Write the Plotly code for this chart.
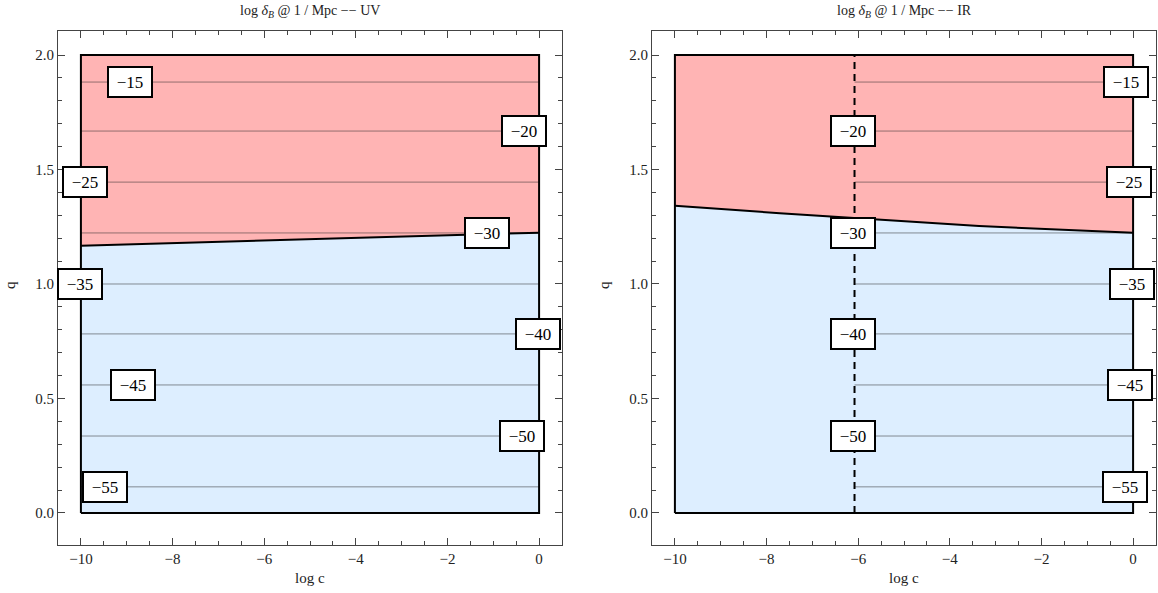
import plotly.graph_objects as go

# ---------------- data ----------------
levels = [-15, -20, -25, -30, -35, -40, -45, -50, -55]
level_q = [1.882, 1.668, 1.445, 1.223, 1.0, 0.782, 0.559, 0.336, 0.114]

# region boundary (log c, q)
uv_bound_c = [-10.0, 0.0]
uv_bound_q = [1.167, 1.224]
ir_bound_c = [-10.0, -7.71, -3.36, 0.0]
ir_bound_q = [1.342, 1.309, 1.253, 1.224]

ir_dash_c = -6.08          # vertical dashed line in IR panel
c_min, c_max = -10.0, 0.0
q_min, q_max = 0.0, 2.0

# label positions along log c
uv_label_c = [-8.93, -0.33, -9.91, -1.13, -10.02, -0.03, -8.87, -0.37, -9.48]
ir_label_c = [-0.15, -6.12, -0.09, -6.12, -0.02, -6.12, -0.07, -6.12, -0.17]

titles = ["log <i>δ</i><sub><i>B</i></sub> @ 1 / Mpc −− UV",
          "log <i>δ</i><sub><i>B</i></sub> @ 1 / Mpc −− IR"]

# ---------------- style ----------------
W, H = 1158, 593
RED = "#FFB4B4"
BLUE = "#DDEEFF"
SERIF = "Liberation Serif, Times New Roman, serif"
FRAME = "#444444"


def px(x):
    return x / W


def py(y):
    return (H - y) / H


fig = go.Figure()


def add_panel(xa, ya, bc, bq, line_start):
    fig.add_trace(go.Scatter(
        x=[c_min] + bc + [c_max, c_min], y=[q_min] + bq + [q_min, q_min],
        fill="toself", fillcolor=BLUE, mode="none", hoverinfo="skip",
        xaxis=xa, yaxis=ya, showlegend=False))
    fig.add_trace(go.Scatter(
        x=[c_min] + bc + [c_max, c_min], y=[q_max] + bq + [q_max, q_max],
        fill="toself", fillcolor=RED, mode="none", hoverinfo="skip",
        xaxis=xa, yaxis=ya, showlegend=False))
    xs, ys = [], []
    for q in level_q:
        xs += [line_start, c_max, None]
        ys += [q, q, None]
    fig.add_trace(go.Scatter(x=xs, y=ys, mode="lines",
                             line=dict(color="rgba(40,40,40,0.5)", width=1),
                             xaxis=xa, yaxis=ya, showlegend=False, hoverinfo="skip"))
    fig.add_trace(go.Scatter(x=bc, y=bq, mode="lines",
                             line=dict(color="black", width=2),
                             xaxis=xa, yaxis=ya, showlegend=False, hoverinfo="skip"))
    fig.add_trace(go.Scatter(x=[c_min, c_max, c_max, c_min, c_min],
                             y=[q_min, q_min, q_max, q_max, q_min], mode="lines",
                             line=dict(color="black", width=2),
                             xaxis=xa, yaxis=ya, showlegend=False, hoverinfo="skip"))


def add_labels(xa, ya, label_c):
    for lev, q, c in zip(levels, level_q, label_c):
        fig.add_annotation(x=c, y=q, xref=xa, yref=ya, text="−%d" % abs(lev),
                           showarrow=False, font=dict(family=SERIF, size=17, color="black"),
                           width=36, height=22, align="center", valign="middle",
                           bgcolor="white", bordercolor="black", borderwidth=2, borderpad=3)


add_panel("x", "y", uv_bound_c, uv_bound_q, c_min)
add_panel("x2", "y2", ir_bound_c, ir_bound_q, ir_dash_c)
fig.add_trace(go.Scatter(x=[ir_dash_c, ir_dash_c], y=[q_min, q_max], mode="lines",
                         line=dict(color="black", width=2, dash="7px,5px"),
                         xaxis="x2", yaxis="y2", showlegend=False, hoverinfo="skip"))
add_labels("x", "y", uv_label_c)
add_labels("x2", "y2", ir_label_c)

y_dom = [py(545), py(31)]
dom1 = [px(58), px(562)]
dom2 = [px(652), px(1156)]

x_minor = [v / 2 for v in range(-19, 0) if v % 4 != 0]
y_minor = [v / 10 for v in range(1, 20) if v % 5 != 0]


def xaxis(dom, anchor):
    return dict(domain=dom, anchor=anchor, range=[-10.5, 0.5],
                tickmode="array", tickvals=[-10, -8, -6, -4, -2, 0],
                ticks="inside", ticklen=7, tickcolor=FRAME, tickwidth=1,
                minor=dict(tickvals=x_minor, ticks="inside", ticklen=4, tickcolor=FRAME),
                showline=True, linecolor=FRAME, linewidth=1, mirror="allticks",
                showgrid=False, zeroline=False,
                tickfont=dict(family=SERIF, size=15, color="#222"))


def yaxis(dom, anchor):
    return dict(domain=dom, anchor=anchor, range=[-0.14, 2.105],
                tickmode="array", tickvals=[0, 0.5, 1, 1.5, 2],
                ticktext=["0.0", "0.5", "1.0", "1.5", "2.0"],
                ticks="inside", ticklen=7, tickcolor=FRAME, tickwidth=1,
                minor=dict(tickvals=y_minor, ticks="inside", ticklen=4, tickcolor=FRAME),
                showline=True, linecolor=FRAME, linewidth=1, mirror="allticks",
                showgrid=False, zeroline=False,
                tickfont=dict(family=SERIF, size=15, color="#222"))


fig.update_layout(
    width=W, height=H, margin=dict(l=0, r=0, t=0, b=0),
    paper_bgcolor="white", plot_bgcolor="white",
    xaxis=xaxis(dom1, "y"), yaxis=yaxis(y_dom, "x"),
    xaxis2=xaxis(dom2, "y2"), yaxis2=yaxis(y_dom, "x2"),
)

for i, dom in enumerate([dom1, dom2]):
    cx = (dom[0] + dom[1]) / 2
    fig.add_annotation(x=cx, y=py(12), xref="paper", yref="paper", text=titles[i],
                       showarrow=False, font=dict(family=SERIF, size=14, color="#222"),
                       xanchor="center", yanchor="middle")
    fig.add_annotation(x=cx, y=py(578), xref="paper", yref="paper", text="log c",
                       showarrow=False, font=dict(family=SERIF, size=15, color="#222"),
                       xanchor="center", yanchor="middle")
    fig.add_annotation(x=dom[0] - 48 / W, y=py(285), xref="paper", yref="paper",
                       text="q", textangle=-90, showarrow=False,
                       font=dict(family=SERIF, size=15, color="#222"),
                       xanchor="center", yanchor="middle")

fig.write_html("out.html", config={"displayModeBar": False},
               post_script="document.body.style.margin='0';document.body.style.overflow='hidden';")
